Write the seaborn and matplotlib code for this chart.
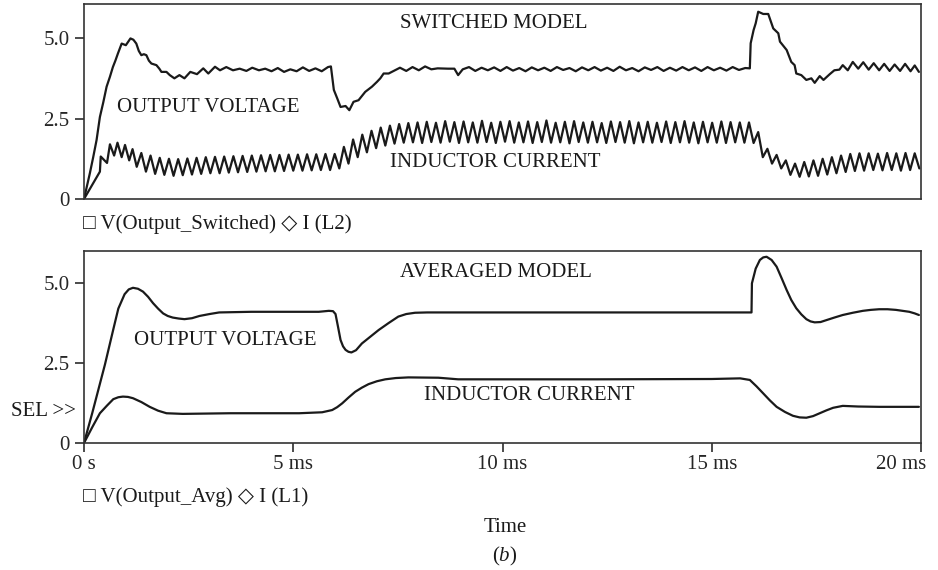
import numpy as np
import matplotlib
matplotlib.use("Agg")
import matplotlib.pyplot as plt
import matplotlib.transforms as mtransforms
import seaborn as sns

# ---------------------------------------------------------------
# Data (time in ms)
# ---------------------------------------------------------------

# switched model - output voltage
t_vsw = [0, 0.14, 0.22, 0.3, 0.38, 0.46, 0.54, 0.62, 0.69, 0.75, 0.81, 0.9, 1.0, 1.11, 1.18,
         1.25, 1.31, 1.37, 1.43, 1.49, 1.55, 1.61, 1.73, 1.8, 1.85, 1.97, 2.05, 2.16, 2.28, 2.4,
         2.54, 2.7, 2.85, 2.97, 3.13, 3.25, 3.4, 3.56, 3.72, 3.88, 4.02, 4.18, 4.33, 4.48, 4.63,
         4.78, 4.93, 5.08, 5.23, 5.38, 5.53, 5.68, 5.83, 5.9, 5.97, 6.05, 6.13, 6.25, 6.34, 6.44,
         6.56, 6.64, 6.72, 6.88, 7.0, 7.08, 7.16, 7.28, 7.43, 7.55, 7.7, 7.85, 8.0, 8.15, 8.3,
         8.45, 8.7, 8.85, 8.94, 9.05, 9.2, 9.35, 9.5, 9.65, 9.8, 9.95, 10.1, 10.25, 10.4, 10.55,
         10.7, 10.85, 11.0, 11.15, 11.3, 11.45, 11.6, 11.75, 11.9, 12.05, 12.2, 12.35, 12.5, 12.65,
         12.8, 12.95, 13.1, 13.25, 13.4, 13.55, 13.7, 13.85, 14.0, 14.15, 14.3, 14.45, 14.6, 14.75,
         14.9, 15.05, 15.2, 15.35, 15.5, 15.65, 15.8, 15.91, 15.93, 16.0, 16.05, 16.11, 16.23,
         16.35, 16.47, 16.59, 16.63, 16.79, 16.9, 16.98, 17.02, 17.14, 17.26, 17.38, 17.46, 17.58,
         17.67, 17.82, 17.93, 18.05, 18.13, 18.25, 18.37, 18.5, 18.62, 18.75, 18.87, 19.0, 19.12,
         19.25, 19.37, 19.5, 19.62, 19.75, 19.85, 19.95]
v_sw = [0, 0.8, 1.3, 1.83, 2.55, 3.0, 3.49, 3.8, 4.1, 4.3, 4.52, 4.83, 4.78, 4.99, 4.95,
        4.83, 4.6, 4.47, 4.5, 4.47, 4.3, 4.21, 4.16, 4.05, 3.95, 3.95, 3.85, 3.75, 3.85, 3.75,
        3.95, 3.88, 4.06, 3.9, 4.11, 4.0, 4.1, 4.0, 4.05, 3.98, 4.08, 4.0, 4.05, 3.97, 4.07,
        3.95, 4.03, 3.97, 4.09, 3.98, 4.06, 3.97, 4.1, 4.12, 3.39, 3.13, 2.86, 2.89, 2.76, 3.02,
        3.07, 3.2, 3.33, 3.49, 3.64, 3.75, 3.9, 3.9, 4.0, 4.08, 3.98, 4.1, 4.0, 4.12, 4.03,
        4.06, 4.05, 4.05, 3.85, 4.03, 4.1, 3.98, 4.08, 4.0, 4.09, 3.98, 4.1, 3.99, 4.07, 3.97,
        4.09, 4.0, 4.08, 3.98, 4.1, 4.01, 4.07, 3.97, 4.09, 4.0, 4.1, 3.99, 4.08, 3.98, 4.11,
        4.0, 4.07, 3.97, 4.09, 4.01, 4.1, 3.98, 4.08, 3.99, 4.1, 4.0, 4.09, 3.98, 4.1, 4.0,
        4.08, 3.99, 4.1, 4.01, 4.07, 4.06, 4.84, 5.25, 5.46, 5.82, 5.75, 5.75, 5.3, 5.15, 4.89,
        4.63, 4.26, 4.16, 3.9, 3.85, 3.7, 3.75, 3.61, 3.82, 3.7, 3.88, 4.0, 4.02, 4.16, 4.0,
        4.26, 4.05, 4.25, 4.02, 4.22, 4.0, 4.2, 3.98, 4.18, 3.98, 4.2, 3.97, 4.15, 3.95]

# switched model - inductor current (ripple peaks / troughs)
t_isw = [0, 0.38, 0.4, 0.55, 0.62, 0.72, 0.8, 0.9, 0.98, 1.08, 1.16,
         1.26, 1.37, 1.48, 1.59, 1.70, 1.81, 1.92, 2.03, 2.14, 2.25, 2.36, 2.47, 2.58, 2.69,
         2.80, 2.91, 3.02, 3.13, 3.24, 3.35, 3.46, 3.57, 3.68, 3.79, 3.90, 4.01, 4.12, 4.23,
         4.34, 4.45, 4.56, 4.67, 4.78, 4.89, 5.00, 5.11, 5.22, 5.33, 5.44, 5.55, 5.66, 5.77,
         5.88, 5.99, 6.10, 6.21, 6.32, 6.43, 6.54, 6.65, 6.76, 6.87, 6.98, 7.09, 7.20, 7.31,
         7.42, 7.53, 7.64, 7.75, 7.86, 7.97, 8.08, 8.19, 8.30, 8.41, 8.52, 8.63, 8.74, 8.85,
         8.96, 9.07, 9.18, 9.29, 9.40, 9.51, 9.62, 9.73, 9.84, 9.95, 10.06, 10.17, 10.28, 10.39,
         10.50, 10.61, 10.72, 10.83, 10.94, 11.05, 11.16, 11.27, 11.38, 11.49, 11.60, 11.71,
         11.82, 11.93, 12.04, 12.15, 12.26, 12.37, 12.48, 12.59, 12.70, 12.81, 12.92, 13.03,
         13.14, 13.25, 13.36, 13.47, 13.58, 13.69, 13.80, 13.91, 14.02, 14.13, 14.24, 14.35,
         14.46, 14.57, 14.68, 14.79, 14.90, 15.01, 15.12, 15.23, 15.34, 15.45, 15.56, 15.67,
         15.78, 15.89, 16.00, 16.11, 16.22, 16.33, 16.44, 16.55, 16.66, 16.77, 16.88, 16.99,
         17.10, 17.21, 17.32, 17.43, 17.54, 17.65, 17.76, 17.87, 17.98, 18.09, 18.20, 18.31,
         18.42, 18.53, 18.64, 18.75, 18.86, 18.97, 19.08, 19.19, 19.30, 19.41, 19.52, 19.63,
         19.74, 19.85, 19.96]
i_sw = [0, 0.85, 1.32, 1.12, 1.7, 1.35, 1.75, 1.3, 1.68, 1.2, 1.55,
        1.0, 1.43, 0.85, 1.35, 0.78, 1.28, 0.75, 1.25, 0.72, 1.24, 0.74, 1.26, 0.76, 1.28,
        0.78, 1.3, 0.8, 1.31, 0.8, 1.32, 0.82, 1.33, 0.83, 1.34, 0.84, 1.35, 0.85, 1.36,
        0.86, 1.37, 0.86, 1.37, 0.87, 1.38, 0.88, 1.38, 0.88, 1.39, 0.89, 1.39, 0.9, 1.4,
        0.9, 1.4, 0.95, 1.62, 1.1, 1.85, 1.3, 2.0, 1.45, 2.12, 1.58, 2.22, 1.66, 2.28,
        1.72, 2.33, 1.75, 2.36, 1.76, 2.38, 1.74, 2.4, 1.77, 2.37, 1.75, 2.42, 1.78, 2.39,
        1.74, 2.41, 1.76, 2.38, 1.75, 2.43, 1.77, 2.37, 1.74, 2.4, 1.78, 2.42, 1.75, 2.38,
        1.76, 2.41, 1.74, 2.39, 1.77, 2.44, 1.75, 2.37, 1.76, 2.4, 1.73, 2.42, 1.77, 2.38,
        1.75, 2.4, 1.76, 2.36, 1.74, 2.41, 1.77, 2.39, 1.75, 2.42, 1.73, 2.38, 1.76, 2.4,
        1.75, 2.37, 1.77, 2.41, 1.74, 2.39, 1.76, 2.42, 1.75, 2.38, 1.73, 2.4, 1.76, 2.37,
        1.75, 2.41, 1.74, 2.39, 1.76, 2.38, 1.75, 2.38, 1.74, 2.08, 1.3, 1.56, 1.1, 1.37,
        0.95, 1.2, 0.75, 1.1, 0.69, 1.15, 0.7, 1.2, 0.72, 1.25, 0.76, 1.3, 0.8, 1.35,
        0.84, 1.4, 0.87, 1.42, 0.88, 1.42, 0.9, 1.41, 0.89, 1.43, 0.9, 1.42, 0.88, 1.43,
        0.9, 1.42, 0.95]

# averaged model - output voltage
t_vavg = [0, 0.2, 0.38, 0.5, 0.6, 0.7, 0.82, 0.97, 1.07, 1.17, 1.29, 1.41, 1.53, 1.65, 1.77,
          1.89, 2.0, 2.12, 2.26, 2.4, 2.58, 2.76, 3.0, 3.23, 4.0, 5.14, 5.61, 5.85, 5.95, 6.01,
          6.07, 6.13, 6.19, 6.25, 6.32, 6.39, 6.5, 6.64, 6.84, 7.04, 7.28, 7.51, 7.7, 7.91, 8.2,
          10.0, 12.0, 14.0, 15.95, 15.96, 16.05, 16.15, 16.23, 16.31, 16.43, 16.55, 16.67, 16.79,
          16.9, 17.02, 17.14, 17.26, 17.36, 17.46, 17.6, 17.74, 17.93, 18.13, 18.37, 18.61, 18.8,
          19.0, 19.2, 19.4, 19.56, 19.72, 19.85, 19.95]
v_avg = [0, 0.95, 1.85, 2.45, 3.0, 3.55, 4.2, 4.65, 4.8, 4.85, 4.82, 4.73, 4.57, 4.37, 4.2,
         4.05, 3.97, 3.92, 3.89, 3.87, 3.9, 3.97, 4.03, 4.08, 4.1, 4.1, 4.1, 4.13, 4.12, 4.03,
         3.63, 3.22, 3.02, 2.91, 2.85, 2.83, 2.9, 3.11, 3.32, 3.53, 3.75, 3.95, 4.03, 4.07, 4.08,
         4.08, 4.08, 4.08, 4.08, 4.99, 5.45, 5.72, 5.8, 5.82, 5.72, 5.51, 5.15, 4.78,
         4.47, 4.21, 4.02, 3.87, 3.8, 3.77, 3.78, 3.84, 3.92, 4.0, 4.07, 4.13, 4.16,
         4.18, 4.18, 4.16, 4.13, 4.1, 4.05, 4.0]

# averaged model - inductor current
t_iavg = [0, 0.2, 0.38, 0.55, 0.7, 0.82, 0.93, 1.05, 1.17, 1.37, 1.57, 1.77, 1.97, 2.36, 3.5,
          5.14, 5.69, 5.93, 6.05, 6.17, 6.32, 6.48, 6.64, 6.8, 7.0, 7.2, 7.45, 7.75, 8.47, 8.94,
          10.0, 12.27, 15.0, 15.68, 15.91, 16.07, 16.23, 16.39, 16.55, 16.75, 16.94, 17.1, 17.26,
          17.42, 17.58, 17.74, 17.9, 18.13, 18.5, 19.0, 19.95]
i_avg = [0, 0.5, 0.93, 1.17, 1.37, 1.43, 1.45, 1.44, 1.4, 1.28, 1.13, 1.01, 0.93, 0.91, 0.93,
         0.93, 0.96, 1.03, 1.12, 1.24, 1.42, 1.6, 1.73, 1.84, 1.93, 1.99, 2.03, 2.05, 2.04, 1.99,
         1.99, 1.99, 2.0, 2.02, 1.97, 1.77, 1.55, 1.33, 1.13, 0.97, 0.85, 0.8, 0.79,
         0.84, 0.93, 1.02, 1.1, 1.16, 1.14, 1.13, 1.13]

x_ticks = [0, 5, 10, 15, 20]
x_ticklabels = ["0 s", "5 ms", "10 ms", "15 ms", "20 ms"]
y_ticks = [0, 2.5, 5.0]
y_ticklabels = ["0", "2.5", "5.0"]

# ---------------------------------------------------------------
# Style
# ---------------------------------------------------------------
sns.set_style("white")
plt.rcParams['font.family'] = ['Liberation Serif', 'DejaVu Sans']
plt.rcParams['mathtext.fontset'] = 'custom'
plt.rcParams['mathtext.rm'] = 'Liberation Serif'
plt.rcParams['mathtext.it'] = 'Liberation Serif:italic'

FS = 15
LW = 1.6
INK = "#1a1a1a"

fig = plt.figure(figsize=(9.38, 5.7), dpi=100)
ax_top = fig.add_axes([84 / 938, 1 - 199 / 570, 837 / 938, 195 / 570])
ax_bot = fig.add_axes([84 / 938, 1 - 443 / 570, 837 / 938, 192 / 570])


def style_axis(ax, ymax, show_x):
    ax.set_xlim(0, 20)
    ax.set_ylim(0, ymax)
    ax.set_yticks(y_ticks)
    ax.set_yticklabels(y_ticklabels)
    for sp in ax.spines.values():
        sp.set_visible(True)
        sp.set_color("#333333")
        sp.set_linewidth(1.2)
    ax.tick_params(axis='y', direction='out', length=6.5, width=1.1, color=INK,
                   labelsize=FS, pad=4, left=True)
    if show_x:
        ax.set_xticks(x_ticks)
        ax.set_xticklabels(x_ticklabels)
        ax.tick_params(axis='x', direction='out', length=6.5, width=1.1, color=INK,
                       labelsize=FS, pad=2, bottom=True)
    else:
        ax.set_xticks([])
    ax.set_xlabel("")
    ax.set_ylabel("")
    ax.grid(False)


# top panel: switched model
sns.lineplot(x=t_vsw, y=v_sw, ax=ax_top, color=INK, lw=LW, sort=False, estimator=None)
sns.lineplot(x=t_isw, y=i_sw, ax=ax_top, color=INK, lw=LW, sort=False, estimator=None)
style_axis(ax_top, 6.06, False)
ax_top.text(7.54, 5.45, "SWITCHED MODEL", fontsize=FS, ha='left', va='center', color=INK)
ax_top.text(0.78, 2.85, "OUTPUT VOLTAGE", fontsize=FS, ha='left', va='center', color=INK)
ax_top.text(7.3, 1.12, "INDUCTOR CURRENT", fontsize=FS, ha='left', va='center', color=INK)

# bottom panel: averaged model
sns.lineplot(x=t_vavg, y=v_avg, ax=ax_bot, color=INK, lw=LW, sort=False, estimator=None)
sns.lineplot(x=t_iavg, y=i_avg, ax=ax_bot, color=INK, lw=LW, sort=False, estimator=None)
style_axis(ax_bot, 6.0, True)
ax_bot.text(7.54, 5.34, "AVERAGED MODEL", fontsize=FS, ha='left', va='center', color=INK)
ax_bot.text(1.19, 3.2, "OUTPUT VOLTAGE", fontsize=FS, ha='left', va='center', color=INK)
ax_bot.text(8.13, 1.48, "INDUCTOR CURRENT", fontsize=FS, ha='left', va='center', color=INK)
ax_bot.text(-0.19, 0.97, "SEL >>", fontsize=FS, ha='right', va='center', color=INK, clip_on=False)

# last tick label sits a little to the left of its tick, as in the original
last_lbl = ax_bot.get_xticklabels()[-1]
last_lbl.set_transform(last_lbl.get_transform() +
                       mtransforms.ScaledTranslation(-0.2, 0, fig.dpi_scale_trans))

# trace legends / labels under the panels
fig.text(83 / 938, 1 - 224 / 570, "\u25a1 V(Output_Switched) \u25c7 I (L2)", fontsize=FS,
         ha='left', va='center', color=INK)
fig.text(83 / 938, 1 - 497 / 570, "\u25a1 V(Output_Avg) \u25c7 I (L1)", fontsize=FS,
         ha='left', va='center', color=INK)
fig.text(505 / 938, 1 - 528 / 570, "Time", fontsize=FS, ha='center', va='center', color=INK)
fig.text(505 / 938, 1 - 556 / 570, r"$\mathrm{(}\mathit{b}\mathrm{)}$", fontsize=FS,
         ha='center', va='center', color=INK)

fig.savefig("out.png", dpi=100)
